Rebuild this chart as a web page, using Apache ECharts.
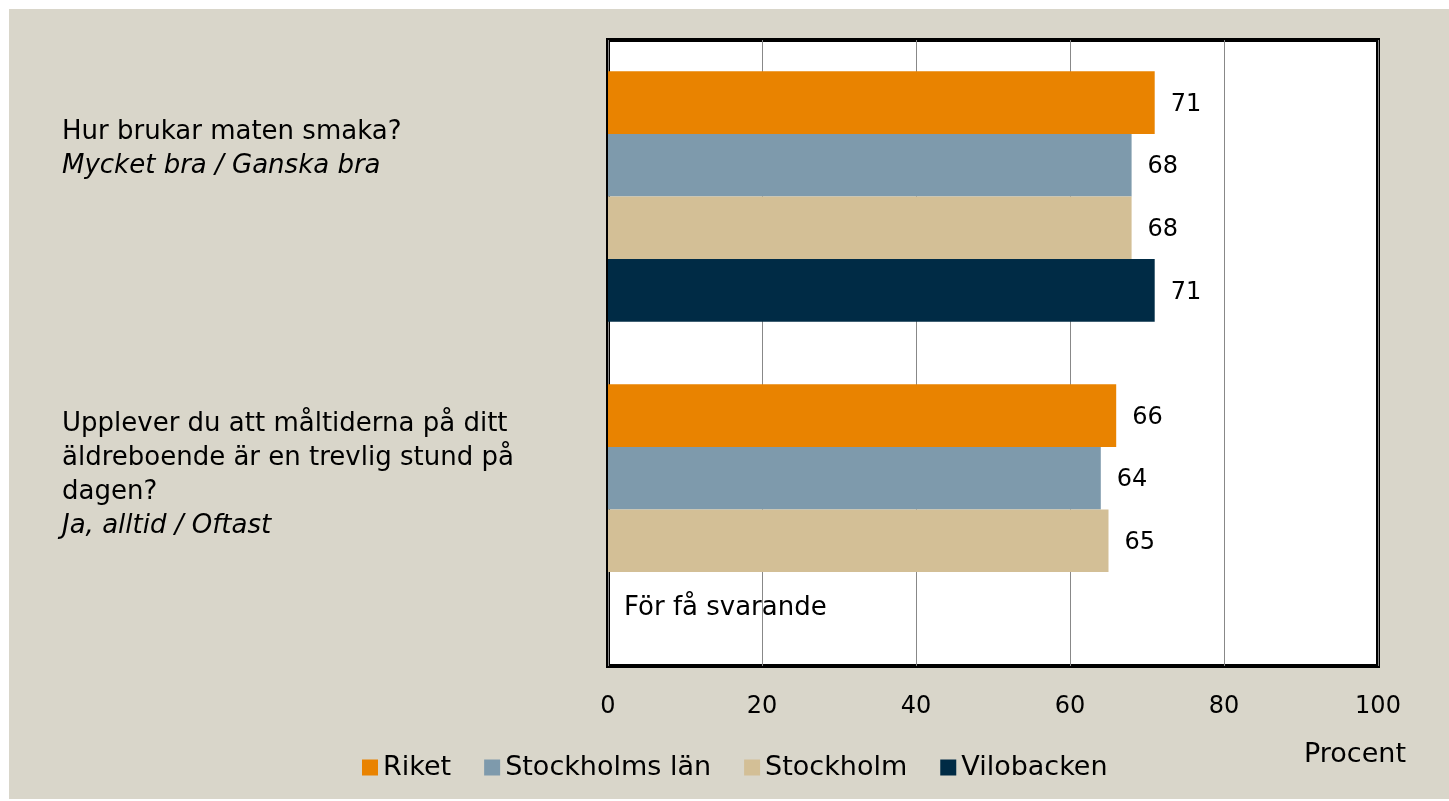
<!DOCTYPE html>
<html>
<head>
<meta charset="utf-8">
<script src="https://cdn.jsdelivr.net/npm/echarts@6/dist/echarts.min.js"></script>
<style>
  html, body { margin: 0; padding: 0; background: #fff; }
  #chart { position: absolute; left: 9px; top: 9px; width: 1440px; height: 790px; background: #d9d6ca; }
</style>
</head>
<body>
<div id="chart"></div>
<script>
const questions = ['Hur brukar maten smaka?', 'Upplever du att måltiderna på ditt\näldreboende är en trevlig stund på\ndagen?']
const answers = ['Mycket bra / Ganska bra', 'Ja, alltid / Oftast']
const seriesNames = ['Riket', 'Stockholms län', 'Stockholm', 'Vilobacken']
const riket = [71, 66]
const stockholmsLan = [68, 64]
const stockholm = [68, 65]
const vilobacken = [71, null]
const xTicks = [0, 20, 40, 60, 80, 100]
const colors = ['#e98300', '#7e9aac', '#d3bf96', '#002b45']
const missingText = 'För få svarande'

const font = 'DejaVu Sans'
const chart = echarts.init(document.getElementById('chart'))

// lift the multi-line labels a bit, like the original
const labelPad = [[0, 0, 94, 0], [0, 0, 68, 0]]

const valueSeries = [riket, stockholmsLan, stockholm, vilobacken]
const series = valueSeries.map((vals, i) => {
  return {
    name: seriesNames[i],
    type: 'bar',
    barGap: 0,
    barCategoryGap: '20%',
    itemStyle: { color: colors[i] },
    label: {
      show: true,
      position: 'right',
      distance: 16,
      offset: [0, 2],
      color: '#000',
      fontFamily: font,
      fontSize: 24
    },
    data: vals.map(v => {
      if (v === null) {
        // no bar, just the note
        return { value: 0, label: { formatter: missingText, distance: 16, offset: [0, 5], fontSize: 26 } }
      }
      return v
    })
  }
})

const option = {
  animation: false,
  textStyle: { fontFamily: font },
  title: {
    text: 'Procent',
    left: 1290,
    top: 727,
    textStyle: { fontFamily: font, fontWeight: 'normal', fontSize: 27, color: '#000' }
  },
  legend: {
    bottom: 13,
    left: 348,
    itemWidth: 16,
    itemHeight: 16,
    itemGap: 33,
    icon: 'rect',
    textStyle: { fontFamily: font, fontSize: 27, color: '#000' },
    data: seriesNames
  },
  grid: {
    left: 599,
    top: 31,
    right: 71,
    bottom: 133,
    show: true,
    backgroundColor: '#fff',
    borderColor: '#000',
    borderWidth: 4,
    containLabel: false,
    outerBoundsMode: 'none'
  },
  xAxis: {
    type: 'value',
    min: xTicks[0],
    max: xTicks[xTicks.length - 1],
    interval: 20,
    axisLine: { show: false },
    axisTick: { show: false },
    axisLabel: { color: '#000', fontFamily: font, fontSize: 24, margin: 29 },
    splitLine: { lineStyle: { color: '#888', width: 1 } }
  },
  yAxis: {
    type: 'category',
    inverse: true,
    data: questions.map((q, i) => ({ value: q, textStyle: { padding: labelPad[i], align: 'left' } })),
    axisLine: { show: false },
    axisTick: { show: false },
    axisLabel: {
      align: 'left',
      margin: 546,
      color: '#000',
      formatter: (val, idx) => '{q|' + val + '}\n{a|' + answers[idx] + '}',
      rich: {
        q: { fontFamily: font, fontSize: 26, lineHeight: 34, color: '#000', align: 'left' },
        a: { fontFamily: font, fontSize: 26, lineHeight: 34, fontStyle: 'italic', color: '#000', align: 'left' }
      }
    }
  },
  series: series
}

chart.setOption(option)
</script>
</body>
</html>
